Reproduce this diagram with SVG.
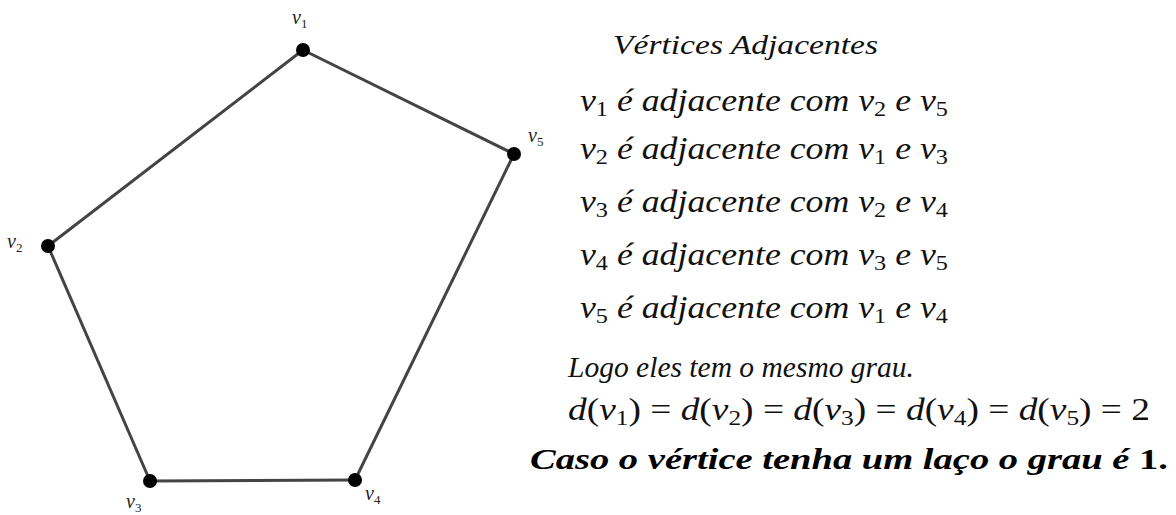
<svg xmlns="http://www.w3.org/2000/svg" width="1176" height="515" viewBox="0 0 1176 515">
<style>
.edge{stroke:#444;stroke-width:3;fill:none;stroke-linecap:round}
.dot{fill:#000}
.lbl{font-family:"Liberation Serif",serif;font-style:italic;font-size:20px;fill:#222}
.sub{font-style:normal;font-size:13px}
.t{font-family:"Liberation Serif",serif;font-style:italic;font-size:31px;fill:#111}
.ts{font-style:normal;font-size:21px}
.up{font-style:normal}
.b{font-family:"Liberation Serif",serif;font-style:italic;font-weight:bold;font-size:30px;fill:#000}
</style>
<rect width="1176" height="515" fill="#fff"/>
<g id="edges">
<line class="edge" x1="303" y1="50" x2="514" y2="154"/>
<line class="edge" x1="303" y1="50" x2="48" y2="246"/>
<line class="edge" x1="48" y1="246" x2="150" y2="481"/>
<line class="edge" x1="150" y1="481" x2="355" y2="480"/>
<line class="edge" x1="355" y1="480" x2="514" y2="154"/>
</g>
<g id="v1"><circle class="dot" cx="303" cy="50" r="7"/><text class="lbl" x="292" y="24">v<tspan class="sub" dy="4">1</tspan></text></g>
<g id="v2"><circle class="dot" cx="48" cy="246" r="7"/><text class="lbl" x="7" y="248">v<tspan class="sub" dy="4">2</tspan></text></g>
<g id="v3"><circle class="dot" cx="150" cy="481" r="7"/><text class="lbl" x="126" y="508">v<tspan class="sub" dy="4">3</tspan></text></g>
<g id="v4"><circle class="dot" cx="355" cy="480" r="7"/><text class="lbl" x="365" y="500">v<tspan class="sub" dy="4">4</tspan></text></g>
<g id="v5"><circle class="dot" cx="514" cy="154" r="7"/><text class="lbl" x="528" y="142">v<tspan class="sub" dy="4">5</tspan></text></g>
<g id="texts">
<text class="t" x="613" y="54" style="font-size:27px" textLength="265" lengthAdjust="spacingAndGlyphs">Vértices Adjacentes</text>
<text class="t" x="580" y="111" textLength="368" lengthAdjust="spacingAndGlyphs">v<tspan class="ts" dy="5">1</tspan><tspan dy="-5"> é adjacente com v</tspan><tspan class="ts" dy="5">2</tspan><tspan dy="-5"> e v</tspan><tspan class="ts" dy="5">5</tspan></text>
<text class="t" x="580" y="159" textLength="368" lengthAdjust="spacingAndGlyphs">v<tspan class="ts" dy="5">2</tspan><tspan dy="-5"> é adjacente com v</tspan><tspan class="ts" dy="5">1</tspan><tspan dy="-5"> e v</tspan><tspan class="ts" dy="5">3</tspan></text>
<text class="t" x="580" y="212" textLength="368" lengthAdjust="spacingAndGlyphs">v<tspan class="ts" dy="5">3</tspan><tspan dy="-5"> é adjacente com v</tspan><tspan class="ts" dy="5">2</tspan><tspan dy="-5"> e v</tspan><tspan class="ts" dy="5">4</tspan></text>
<text class="t" x="580" y="265" textLength="368" lengthAdjust="spacingAndGlyphs">v<tspan class="ts" dy="5">4</tspan><tspan dy="-5"> é adjacente com v</tspan><tspan class="ts" dy="5">3</tspan><tspan dy="-5"> e v</tspan><tspan class="ts" dy="5">5</tspan></text>
<text class="t" x="580" y="318" textLength="368" lengthAdjust="spacingAndGlyphs">v<tspan class="ts" dy="5">5</tspan><tspan dy="-5"> é adjacente com v</tspan><tspan class="ts" dy="5">1</tspan><tspan dy="-5"> e v</tspan><tspan class="ts" dy="5">4</tspan></text>
<text class="t" x="568" y="377" style="font-size:29px" textLength="346" lengthAdjust="spacingAndGlyphs">Logo eles tem o mesmo grau.</text>
<text class="t" x="568" y="420" textLength="582" lengthAdjust="spacingAndGlyphs">d<tspan class="up">(</tspan>v<tspan class="ts" dy="5">1</tspan><tspan class="up" dy="-5">) = </tspan>d<tspan class="up">(</tspan>v<tspan class="ts" dy="5">2</tspan><tspan class="up" dy="-5">) = </tspan>d<tspan class="up">(</tspan>v<tspan class="ts" dy="5">3</tspan><tspan class="up" dy="-5">) = </tspan>d<tspan class="up">(</tspan>v<tspan class="ts" dy="5">4</tspan><tspan class="up" dy="-5">) = </tspan>d<tspan class="up">(</tspan>v<tspan class="ts" dy="5">5</tspan><tspan class="up" dy="-5">) = 2</tspan></text>
<text class="b" x="530" y="469" textLength="638" lengthAdjust="spacingAndGlyphs">Caso o vértice tenha um laço o grau é <tspan class="up">1.</tspan></text>
</g>
</svg>
